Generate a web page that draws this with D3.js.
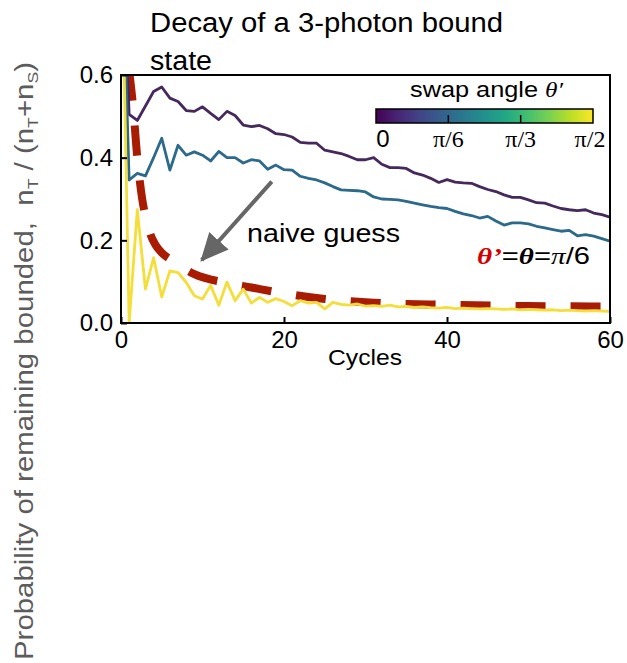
<!DOCTYPE html>
<html>
<head>
<meta charset="utf-8">
<script src="https://cdn.jsdelivr.net/npm/d3@7"></script>
<style>
  body { margin: 0; background: #fff; }
  text { font-family: "Liberation Sans", Arial, sans-serif; }
</style>
</head>
<body>
<div id="vis1"></div>
<script>
// data, one value per cycle (0..60)
let cycles = d3.range(0, 61)

// swap angle 0
let bound0 = [1.0, 0.505, 0.49, 0.525, 0.56, 0.571, 0.544, 0.536, 0.514, 0.512,
  0.523, 0.507, 0.492, 0.512, 0.502, 0.479, 0.475, 0.478, 0.47, 0.458,
  0.456, 0.45, 0.437, 0.435, 0.435, 0.418, 0.414, 0.41, 0.403, 0.395,
  0.395, 0.40, 0.384, 0.376, 0.376, 0.374, 0.363, 0.358, 0.35, 0.34,
  0.347, 0.341, 0.339, 0.338, 0.33, 0.323, 0.318, 0.31, 0.304, 0.304,
  0.298, 0.291, 0.29, 0.283, 0.277, 0.274, 0.272, 0.274, 0.266, 0.262, 0.256]

// swap angle pi/6
let bound30 = [1.0, 0.346, 0.362, 0.356, 0.40, 0.447, 0.37, 0.43, 0.406, 0.414,
  0.406, 0.392, 0.415, 0.40, 0.40, 0.387, 0.395, 0.392, 0.372, 0.382,
  0.371, 0.37, 0.355, 0.35, 0.346, 0.339, 0.33, 0.322, 0.321, 0.32,
  0.317, 0.305, 0.30, 0.299, 0.298, 0.294, 0.29, 0.286, 0.282, 0.279,
  0.277, 0.27, 0.264, 0.26, 0.254, 0.258, 0.247, 0.237, 0.242, 0.242,
  0.24, 0.234, 0.23, 0.226, 0.222, 0.224, 0.211, 0.214, 0.21, 0.204, 0.198]

// swap angle pi/2
let bound90 = [1.0, 0.0, 0.274, 0.082, 0.158, 0.063, 0.126, 0.122, 0.098, 0.066,
  0.058, 0.091, 0.043, 0.099, 0.054, 0.082, 0.048, 0.062, 0.05, 0.059,
  0.052, 0.042, 0.054, 0.048, 0.05, 0.034, 0.05, 0.045, 0.043, 0.046,
  0.041, 0.042, 0.040, 0.043, 0.039, 0.040, 0.038, 0.039, 0.037, 0.036,
  0.038, 0.035, 0.036, 0.035, 0.034, 0.035, 0.034, 0.033, 0.034, 0.032,
  0.033, 0.032, 0.031, 0.032, 0.030, 0.031, 0.030, 0.029, 0.030, 0.029, 0.028]

// naive guess curve (dashed)
let naiveCycles = [1.0, 1.5, 2.0, 2.6, 3.1, 3.6, 4.2, 5, 6.4, 9, 12.7, 16, 19, 25, 31, 40, 50, 60]
let naiveValues = [0.61, 0.52, 0.40, 0.30, 0.25, 0.215, 0.19, 0.17, 0.15, 0.118, 0.098, 0.086, 0.075, 0.058, 0.049, 0.044, 0.041, 0.04]

let xTicks = [0, 20, 40, 60]
let yTicks = [0, 0.2, 0.4, 0.6]
let cbTicks = [0, Math.PI / 6, Math.PI / 3, Math.PI / 2]
let cbLabels = ["0", "π/6", "π/3", "π/2"]

let colors = ["#45295d", "#2b6a8b", "#f3de3a"]

let svg = d3.select('#vis1')
  .append("svg")
  .attr("width", 627)
  .attr("height", 663)
  .style('background-color', '#fff')

let x = d3.scaleLinear().domain([0, 60]).range([121, 610])
let y = d3.scaleLinear().domain([0, 0.6]).range([323, 75])

svg.append("clipPath").attr("id", "plotclip")
  .append("rect")
  .attr("x", x(0)).attr("y", y(0.6))
  .attr("width", x(60) - x(0)).attr("height", y(0) - y(0.6))

// title
svg.append('text')
  .attr('x', 150).attr('y', 32)
  .attr('font-size', 27)
  .attr('textLength', 353)
  .attr('lengthAdjust', 'spacingAndGlyphs')
  .text('Decay of a 3-photon bound')
svg.append('text')
  .attr('x', 150).attr('y', 70)
  .attr('font-size', 27)
  .attr('textLength', 62)
  .attr('lengthAdjust', 'spacingAndGlyphs')
  .text('state')

// y label (rotated, grey)
let ylab = svg.append('text')
  .attr('transform', 'translate(33,361) rotate(-90)')
  .attr('text-anchor', 'middle')
  .attr('font-size', 25)
  .attr('fill', '#5c5c5c')
  .attr('textLength', 598)
  .attr('lengthAdjust', 'spacingAndGlyphs')
ylab.append('tspan').text('Probability of remaining bounded,\u00a0\u00a0n')
ylab.append('tspan').attr('font-size', 15).attr('dy', 5).text('T')
ylab.append('tspan').attr('dy', -5).text('\u00a0/\u00a0(n')
ylab.append('tspan').attr('font-size', 15).attr('dy', 5).text('T')
ylab.append('tspan').attr('dy', -5).text('+n')
ylab.append('tspan').attr('font-size', 15).attr('dy', 5).text('S')
ylab.append('tspan').attr('dy', -5).text(')')

// data lines
let plot = svg.append('g').attr('clip-path', 'url(#plotclip)')

let naiveLine = d3.line()
  .x((d, i) => x(naiveCycles[i]))
  .y(d => y(d))
  .curve(d3.curveMonotoneX)

plot.append('path')
  .attr('d', naiveLine(naiveValues))
  .attr('fill', 'none')
  .attr('stroke', '#a81c03')
  .attr('stroke-width', 8)
  .attr('stroke-dasharray', '30,25')

let line = d3.line()
  .x((d, i) => x(cycles[i]))
  .y(d => y(d))

;[bound0, bound30, bound90].forEach((s, k) => {
  plot.append('path')
    .attr('d', line(s))
    .attr('fill', 'none')
    .attr('stroke', colors[k])
    .attr('stroke-width', 2.8)
    .attr('stroke-linejoin', 'round')
})

// frame
svg.append('rect')
  .attr('x', x(0)).attr('y', y(0.6))
  .attr('width', x(60) - x(0)).attr('height', y(0) - y(0.6))
  .attr('fill', 'none')
  .attr('stroke', '#000')
  .attr('stroke-width', 2)

// axes
let xAxis = svg.append('g')
  .attr('transform', 'translate(0,' + y(0) + ')')
  .call(d3.axisBottom(x).tickValues(xTicks).tickFormat(d3.format('d')).tickSizeInner(-6).tickSizeOuter(0).tickPadding(8))
let yAxis = svg.append('g')
  .attr('transform', 'translate(' + x(0) + ',0)')
  .call(d3.axisLeft(y).tickValues(yTicks).tickFormat(d3.format('.1f')).tickSizeInner(-6).tickSizeOuter(0).tickPadding(8))

;[xAxis, yAxis].forEach(a => {
  a.select('.domain').remove()
  a.selectAll('line').attr('stroke', '#000').attr('stroke-width', 2)
  a.selectAll('text')
    .attr('fill', '#000')
    .style('font-family', '"Liberation Sans", Arial, sans-serif')
    .style('font-size', '24px')
})

svg.append('text')
  .attr('x', 365).attr('y', 365)
  .attr('text-anchor', 'middle')
  .attr('font-size', 22)
  .attr('textLength', 74)
  .attr('lengthAdjust', 'spacingAndGlyphs')
  .text('Cycles')

// arrow + "naive guess"
let defs = svg.append('defs')
defs.append('marker')
  .attr('id', 'head')
  .attr('markerUnits', 'userSpaceOnUse')
  .attr('viewBox', '0 0 28 26')
  .attr('markerWidth', 28).attr('markerHeight', 26)
  .attr('refX', 26).attr('refY', 13)
  .attr('orient', 'auto')
  .append('path')
  .attr('d', 'M0,0 L28,13 L0,26 Z')
  .attr('fill', '#666')

svg.append('line')
  .attr('x1', x(18.5)).attr('y1', y(0.342))
  .attr('x2', x(9.9)).attr('y2', y(0.152))
  .attr('stroke', '#666')
  .attr('stroke-width', 4)
  .attr('marker-end', 'url(#head)')

svg.append('text')
  .attr('x', 247).attr('y', 242)
  .attr('font-size', 26)
  .attr('textLength', 153)
  .attr('lengthAdjust', 'spacingAndGlyphs')
  .text('naive guess')

// theta' = theta = pi/6 label
let lab = svg.append('text')
  .attr('x', 477).attr('y', 264)
  .attr('font-size', 24)
  .attr('textLength', 113)
  .attr('lengthAdjust', 'spacingAndGlyphs')
lab.append('tspan')
  .style('font-family', '"Liberation Serif", "Times New Roman", serif')
  .attr('font-style', 'italic').attr('font-weight', 'bold')
  .attr('fill', '#d40000')
  .text('θ’')
lab.append('tspan').text('=')
lab.append('tspan')
  .style('font-family', '"Liberation Serif", "Times New Roman", serif')
  .attr('font-style', 'italic').attr('font-weight', 'bold')
  .text('θ')
lab.append('tspan').text('=')
lab.append('tspan')
  .style('font-family', '"Liberation Serif", "Times New Roman", serif')
  .attr('font-style', 'italic')
  .text('π')
lab.append('tspan').text('/6')

// colorbar
let cb = d3.scaleLinear().domain([0, Math.PI / 2]).range([376, 593])
let grad = defs.append('linearGradient').attr('id', 'viridis')
d3.range(0, 1.0001, 0.1).forEach(t => {
  grad.append('stop').attr('offset', t).attr('stop-color', d3.interpolateViridis(t))
})
svg.append('rect')
  .attr('x', cb(0)).attr('y', 109)
  .attr('width', cb(Math.PI / 2) - cb(0)).attr('height', 14)
  .attr('fill', 'url(#viridis)')
  .attr('stroke', '#000')
  .attr('stroke-width', 1.5)

svg.selectAll('.cbtick')
  .data(cbTicks.slice(1, 3))
  .enter().append('line')
  .attr('class', 'cbtick')
  .attr('x1', d => cb(d)).attr('x2', d => cb(d))
  .attr('y1', 123).attr('y2', 115)
  .attr('stroke', '#000')
  .attr('stroke-width', 1.5)

let cbOffset = [7, 0, 0, -3]
svg.selectAll('.cblabel')
  .data(cbTicks)
  .enter().append('text')
  .attr('class', 'cblabel')
  .attr('x', (d, i) => cb(d) + cbOffset[i])
  .attr('y', 147)
  .attr('text-anchor', 'middle')
  .attr('font-size', 24)
  .style('font-family', (d, i) => i == 0 ? '"Liberation Sans", Arial, sans-serif' : '"Liberation Serif", "Times New Roman", serif')
  .text((d, i) => cbLabels[i])

let cbTitle = svg.append('text')
  .attr('x', 410).attr('y', 97)
  .attr('font-size', 22)
  .attr('textLength', 153)
  .attr('lengthAdjust', 'spacingAndGlyphs')
cbTitle.append('tspan').text('swap angle ')
cbTitle.append('tspan')
  .style('font-family', '"Liberation Serif", "Times New Roman", serif')
  .attr('font-style', 'italic')
  .text('θ′')
</script>
</body>
</html>
